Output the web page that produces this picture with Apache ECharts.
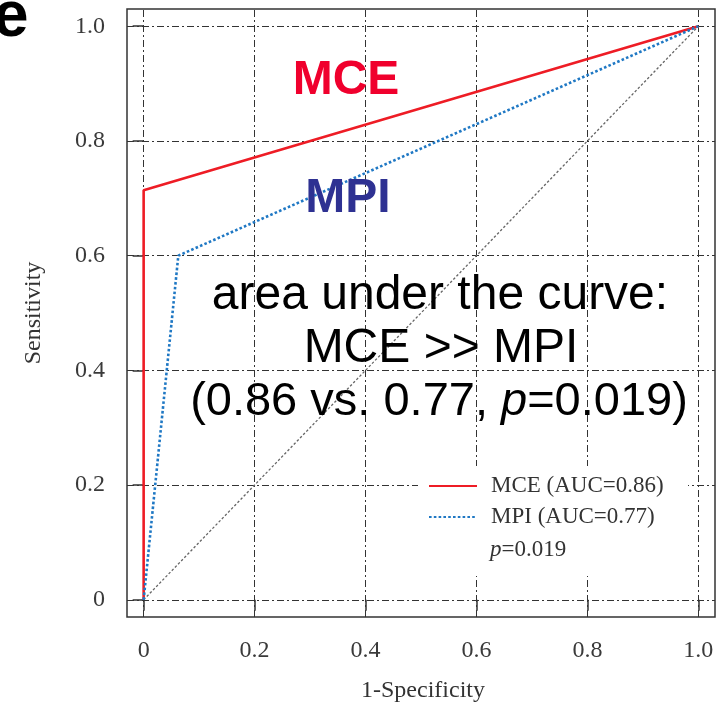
<!DOCTYPE html>
<html><head><meta charset="utf-8">
<script src="https://cdn.jsdelivr.net/npm/echarts@6/dist/echarts.min.js"></script>
<style>html,body{margin:0;padding:0;background:#fff}#c{width:720px;height:710px}</style>
</head><body><div id="c"></div>
<script>
// ---- data ----
const xTicks = [0, 0.2, 0.4, 0.6, 0.8, 1.0];
const yTicks = [0, 0.2, 0.4, 0.6, 0.8, 1.0];
const xTickLabels = ['0', '0.2', '0.4', '0.6', '0.8', '1.0'];
const yTickLabels = ['0', '0.2', '0.4', '0.6', '0.8', '1.0'];
const mceFpr = [0, 0, 1];
const mceTpr = [0, 0.714, 1];
const mpiFpr = [0, 0.0625, 1];
const mpiTpr = [0, 0.60, 1];
const refFpr = [0, 1];
const refTpr = [0, 1];
const seriesNames = ['MCE (AUC=0.86)', 'MPI (AUC=0.77)'];
const pText = '=0.019';
const xTitle = '1-Specificity';
const yTitle = 'Sensitivity';
const bigLines = ['area under the curve:', 'MCE >> MPI', '(0.86 vs. 0.77, '];

const SERIF = '"Liberation Serif","DejaVu Serif",serif';
const SANS = '"Liberation Sans",Arial,sans-serif';
const pair = (xs, ys) => xs.map((x, i) => [x, ys[i]]);
const nearestLabel = (ticks, labels) => v => {
  let best = 0;
  ticks.forEach((t, i) => { if (Math.abs(t - v) < Math.abs(ticks[best] - v)) best = i; });
  return labels[best];
};
const gridDash = [7, 3, 2, 3];

const chart = echarts.init(document.getElementById('c'), null, {renderer: 'canvas'});
chart.setOption({
  animation: false,
  backgroundColor: '#fff',
  grid: {left: 127, right: 5, top: 9, bottom: 93, show: true, borderColor: '#333', borderWidth: 1.5, backgroundColor: 'transparent'},
  xAxis: {
    type: 'value', min: -0.03, max: 1.03,
    axisLine: {show: false},
    splitLine: {show: false},
    axisTick: {show: true, customValues: xTicks, length: 11, inside: false, lineStyle: {color: '#333', width: 1.5}},
    axisLabel: {customValues: xTicks, formatter: nearestLabel(xTicks, xTickLabels), margin: 22,
      fontFamily: SERIF, fontSize: 24, color: '#3a3a3a'}
  },
  yAxis: {
    type: 'value', min: -0.03, max: 1.03,
    axisLine: {show: false},
    splitLine: {show: false},
    axisTick: {show: true, customValues: yTicks, length: 11, inside: false, lineStyle: {color: '#333', width: 1.5}},
    axisLabel: {customValues: yTicks, formatter: nearestLabel(yTicks, yTickLabels), margin: 22,
      fontFamily: SERIF, fontSize: 24, color: '#3a3a3a'}
  },
  legend: {
    orient: 'vertical', left: 428, top: 474, padding: 0, z: 6,
    data: seriesNames, itemWidth: 48, itemHeight: 14, itemGap: 7,
    itemStyle: {opacity: 0},
    textStyle: {fontFamily: SERIF, fontSize: 23, lineHeight: 24, color: '#333', padding: [0, 0, 0, 9]},
    selectedMode: false
  },
  series: [
    {
      type: 'line', name: 'reference', data: pair(refFpr, refTpr), symbol: 'none', silent: true, z: 2,
      lineStyle: {color: '#666', width: 1.3, type: [2.5, 2]},
      markLine: {
        silent: true, symbol: 'none', label: {show: false}, z: 1,
        lineStyle: {color: '#333', width: 1, type: gridDash},
        data: xTicks.map(v => ({xAxis: v})).concat(yTicks.map(v => ({yAxis: v})))
      }
    },
    {
      type: 'line', name: seriesNames[0], data: pair(mceFpr, mceTpr), symbol: 'none', z: 4,
      lineStyle: {color: '#ee1c25', width: 2.6}, itemStyle: {color: '#ee1c25'}
    },
    {
      type: 'line', name: seriesNames[1], data: pair(mpiFpr, mpiTpr), symbol: 'none', z: 4,
      lineStyle: {color: '#1f78c4', width: 2.6, type: [2.6, 2.2]}, itemStyle: {color: '#1f78c4'}
    }
  ],
  graphic: [
    {type: 'rect', z: 3, shape: {x: 418, y: 466, width: 270, height: 110}, style: {fill: '#fff'}},
    {type: 'text', z: 7, x: 490, y: 550, style: {text: '{i|p}{n|' + pText + '}', verticalAlign: 'middle',
      rich: {i: {fontFamily: SERIF, fontSize: 23, fontStyle: 'italic', fill: '#333'}, n: {fontFamily: SERIF, fontSize: 23, fill: '#333'}}}},
    {type: 'text', z: 7, x: 423, y: 691, style: {text: xTitle, font: '24px ' + SERIF, fill: '#333', align: 'center', verticalAlign: 'middle'}},
    {type: 'text', z: 7, x: 34, y: 313, rotation: Math.PI / 2, style: {text: yTitle, font: '24px ' + SERIF, fill: '#333', align: 'center', verticalAlign: 'middle'}},
    {type: 'text', z: 7, x: -7, y: 18, style: {text: 'e', font: 'bold 64px ' + SANS, fill: '#000', align: 'left', verticalAlign: 'middle'}},
    {type: 'text', z: 7, x: 346, y: 81, style: {text: 'MCE', font: 'bold 48px ' + SANS, fill: '#f0002d', align: 'center', verticalAlign: 'middle'}},
    {type: 'text', z: 7, x: 348, y: 199, style: {text: 'MPI', font: 'bold 48px ' + SANS, fill: '#2e3192', align: 'center', verticalAlign: 'middle'}},
    {type: 'text', z: 7, x: 440, y: 296, style: {text: bigLines[0], font: '48px ' + SANS, fill: '#000', align: 'center', verticalAlign: 'middle'}},
    {type: 'text', z: 7, x: 441, y: 349, style: {text: bigLines[1], font: '48px ' + SANS, fill: '#000', align: 'center', verticalAlign: 'middle'}},
    {type: 'text', z: 7, x: 439, y: 402, style: {text: '{n|' + bigLines[2] + '}{i|p}{n|' + pText + ')}', align: 'center', verticalAlign: 'middle',
      rich: {n: {fontFamily: SANS, fontSize: 47, fill: '#000'}, i: {fontFamily: SANS, fontSize: 47, fontStyle: 'italic', fill: '#000'}}}}
  ]
});
</script></body></html>
